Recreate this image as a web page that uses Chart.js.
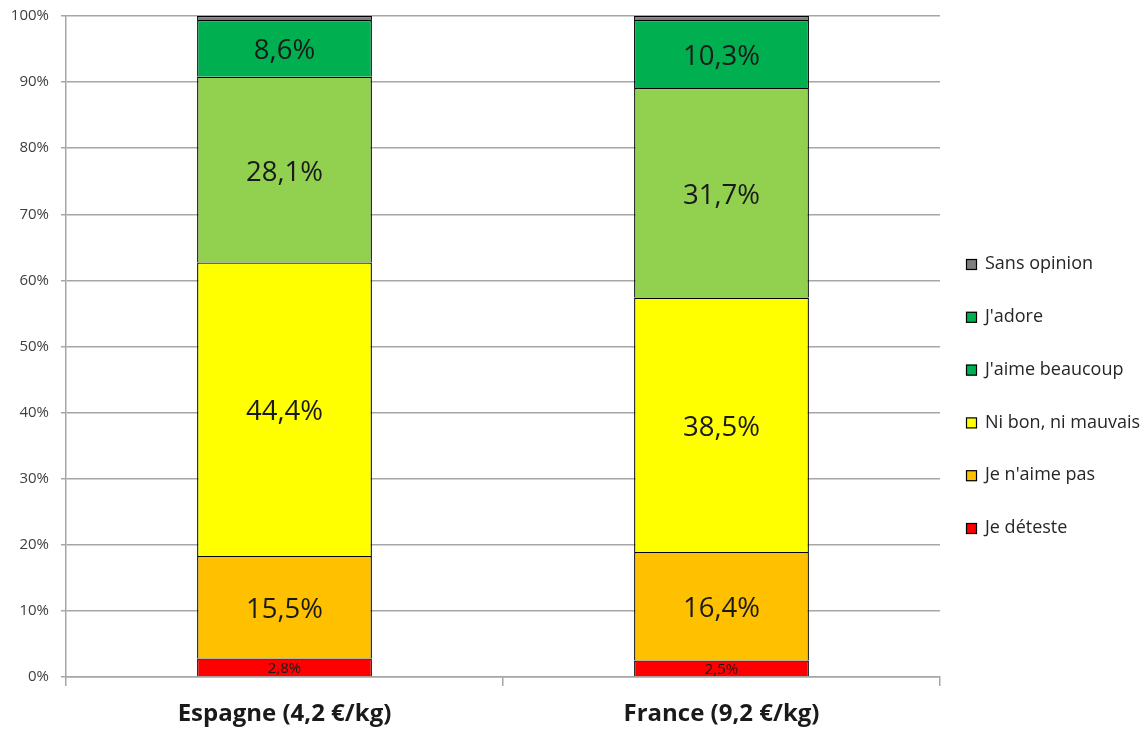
<!DOCTYPE html>
<html>
<head>
<meta charset="utf-8">
<script src="https://cdn.jsdelivr.net/npm/chart.js@4/dist/chart.umd.min.js"></script>
<style>
  html, body { margin: 0; padding: 0; background: #fff; }
  #wrap { width: 1148px; height: 731px; position: relative; }
</style>
</head>
<body>
<div id="wrap"><canvas id="c"></canvas></div>
<script>
// Categories (origin and price per kg)
const categories = ['Espagne (4,2 €/kg)', 'France (9,2 €/kg)'];

// Share of answers per category, in %
const jeDeteste      = [2.8, 2.5];
const jeNAimePas     = [15.5, 16.4];
const niBonNiMauvais = [44.4, 38.5];
const jAimeBeaucoup  = [28.1, 31.7];
const jAdore         = [8.6, 10.3];
const sansOpinion    = [0.6, 0.6];

// Series names
const seriesLabels = ['Je déteste', "Je n'aime pas", 'Ni bon, ni mauvais', "J'aime beaucoup", "J'adore", 'Sans opinion'];

// Y axis ticks
const yTicks = [0, 10, 20, 30, 40, 50, 60, 70, 80, 90, 100];

const fills   = ['#FF0000', '#FFC000', '#FFFF00', '#92D050', '#00B050', '#7F7F7F'];
const swatches = ['#FF0000', '#FFC000', '#FFFF00', '#00B050', '#00B050', '#7F7F7F'];
const seriesValues = [jeDeteste, jeNAimePas, niBonNiMauvais, jAimeBeaucoup, jAdore, sansOpinion];
const showValue = [true, true, true, true, true, false];

const fmt = v => v.toFixed(1).replace('.', ',') + '%';
const FONT = '"Open Sans", Lato, "DejaVu Sans", sans-serif';

// Each segment draws its top and sides; the segment below supplies the shared edge
const datasets = seriesValues.map((vals, i) => ({
  label: seriesLabels[i],
  data: vals,
  backgroundColor: fills[i],
  borderColor: '#000000',
  borderWidth: 1.3,
  borderSkipped: 'start',
  inflateAmount: 0,
  barPercentage: 0.4,
  categoryPercentage: 1.0
}));

// Writes each segment's value at its centre
const valueLabels = {
  id: 'valueLabels',
  afterDatasetsDraw(chart) {
    const ctx = chart.ctx;
    ctx.save();
    ctx.textAlign = 'center';
    ctx.textBaseline = 'middle';
    ctx.fillStyle = '#1a1a1a';
    chart.data.datasets.forEach((ds, di) => {
      if (!showValue[di]) return;
      const meta = chart.getDatasetMeta(di);
      meta.data.forEach((bar, j) => {
        const v = ds.data[j];
        const h = Math.abs(bar.base - bar.y);
        const small = h < 25;
        ctx.font = (small ? 15 : 27.5) + 'px ' + FONT;
        ctx.fillText(fmt(v), bar.x, (bar.y + bar.base) / 2 + (small ? 1 : 3));
      });
    });
    ctx.restore();
  }
};

// Legend on the right, top series first
const sideLegend = {
  id: 'sideLegend',
  afterDraw(chart) {
    const ctx = chart.ctx;
    const x0 = 966, yStart = 264, step = 52.8;
    ctx.save();
    ctx.font = '18px ' + FONT;
    ctx.textBaseline = 'middle';
    ctx.textAlign = 'left';
    const n = chart.data.datasets.length;
    for (let k = 0; k < n; k++) {
      const di = n - 1 - k;
      const y = yStart + k * step;
      ctx.fillStyle = swatches[di];
      ctx.fillRect(x0, y - 5, 11, 11);
      ctx.strokeStyle = '#000';
      ctx.lineWidth = 1.2;
      ctx.strokeRect(x0 + 0.5, y - 4.5, 10, 10);
      ctx.fillStyle = '#262626';
      ctx.fillText(chart.data.datasets[di].label, x0 + 19, y);
    }
    ctx.restore();
  }
};

new Chart(document.getElementById('c'), {
  type: 'bar',
  data: { labels: categories, datasets },
  plugins: [valueLabels, sideLegend],
  options: {
    responsive: true,
    maintainAspectRatio: false,
    animation: false,
    layout: { padding: { top: 16, right: 208, left: 0, bottom: 0 } },
    plugins: {
      legend: { display: false },
      tooltip: { enabled: false }
    },
    scales: {
      x: {
        stacked: true,
        grid: { display: true, drawOnChartArea: false, offset: true, color: '#a6a6a6', lineWidth: 1.5, tickLength: 9 },
        border: { display: true, color: '#a6a6a6', width: 1.5 },
        ticks: { color: '#1a1a1a', font: { family: FONT, size: 24, weight: 'bold' }, padding: 14 },
        afterFit(scale) { scale.height = 54; scale.paddingLeft = 0; scale.paddingRight = 0; }
      },
      y: {
        stacked: true,
        min: 0,
        max: 100,
        afterBuildTicks(scale) { scale.ticks = yTicks.map(v => ({ value: v })); },
        grid: { color: '#a6a6a6', lineWidth: 1.5, tickLength: 5 },
        border: { display: true, color: '#a6a6a6', width: 1.5 },
        ticks: { color: '#404040', font: { family: FONT, size: 15 }, padding: 12, callback: v => v + '%' },
        afterFit(scale) { scale.width = 66; scale.paddingTop = 0; scale.paddingBottom = 0; }
      }
    }
  }
});
</script>
</body>
</html>
